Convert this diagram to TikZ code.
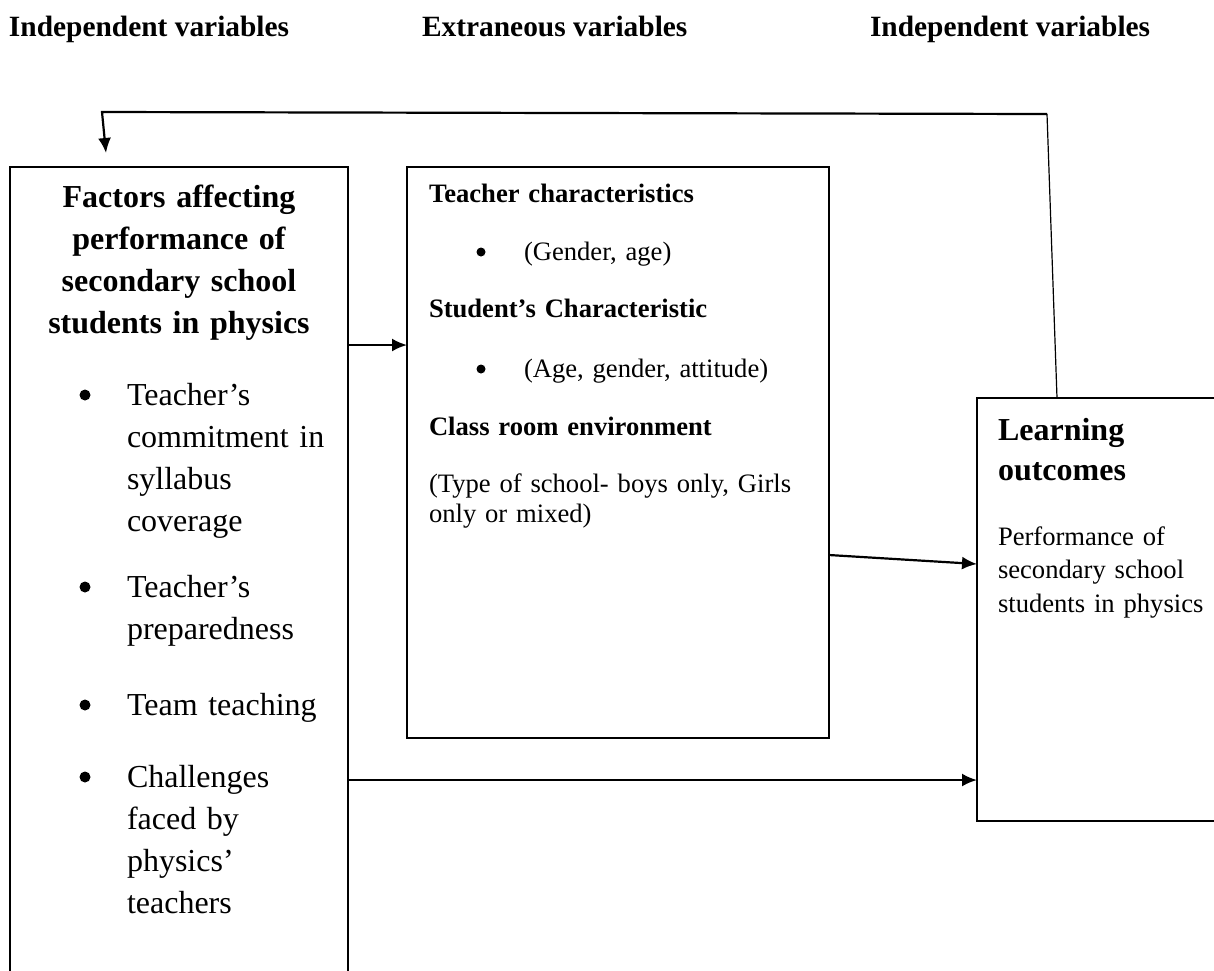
\documentclass[tikz,border=0pt]{standalone}
\usepackage{fontspec}
\setmainfont{Liberation Serif}
\usetikzlibrary{arrows.meta,calc,positioning}

\begin{document}
\begin{tikzpicture}[x=1pt,y=-1pt,every node/.style={inner sep=0pt,outer sep=0pt},
  frame/.style={draw,line width=1.6pt,anchor=north west},
  heading/.style={anchor=base west,font=\bfseries\fontsize{29.4}{35}\selectfont},
  bigtext/.style={anchor=base west,align=left,text width=230pt,font=\fontsize{32}{42}\selectfont},
  smalltext/.style={anchor=base west,align=left,text width=390pt,font=\fontsize{26.6}{30}\selectfont},
  bigdot/.style={circle,fill,minimum size=11pt},
  smalldot/.style={circle,fill,minimum size=9pt},
  link/.style={line width=2.2pt,-{Latex[length=15pt,width=13pt]}}]
\useasboundingbox (0,0) rectangle (1214,970);
% column headings
\node [heading] (HeadLeft) at (9,36) {Independent variables};
\node [heading] (HeadMid) at (422,36) {Extraneous variables};
\node [heading] (HeadRight) at (870,36) {Independent variables};
% boxes
\node [frame,minimum width=338pt,minimum height=850pt] (Factors) at (10,167) {};
\node [frame,minimum width=422pt,minimum height=571pt] (Extraneous) at (407,167) {};
\node [frame,minimum width=280pt,minimum height=423pt] (Outcome) at (977,398) {};
% left box
\node [anchor=base,align=center,text width=330pt,font=\bfseries\fontsize{32}{42}\selectfont] (FactorsTitle) at (179,207) {Factors affecting\\performance of\\secondary school\\students in physics};
\foreach \y in {405,597,715,787}
  \node [bigdot] (Bullet\y) at (85,\y-10) {};
\node [bigtext] (Item1) at (127,405) {Teacher’s\\commitment in\\syllabus\\coverage};
\node [bigtext] (Item2) at (127,597) {Teacher’s\\preparedness};
\node [bigtext] (Item3) at (127,715) {Team teaching};
\node [bigtext] (Item4) at (127,787) {Challenges\\faced by\\physics’\\teachers};
% middle box
\node [smalltext,font=\bfseries\fontsize{26.6}{30}\selectfont] (TeacherHead) at (429,202) {Teacher characteristics};
\node [smalldot] (BulletA) at (481,252) {};
\node [smalltext] (TeacherText) at (524,260) {(Gender, age)};
\node [smalltext,font=\bfseries\fontsize{26.6}{30}\selectfont] (StudentHead) at (429,317) {Student’s Characteristic};
\node [smalldot] (BulletB) at (481,369) {};
\node [smalltext] (StudentText) at (524,377) {(Age, gender, attitude)};
\node [smalltext,font=\bfseries\fontsize{26.6}{30}\selectfont] (RoomHead) at (429,435) {Class room environment};
\node [smalltext] (RoomText) at (429,492) {(Type of school- boys only, Girls\\only or mixed)};
% right box
\node [anchor=base west,align=left,text width=220pt,font=\bfseries\fontsize{32}{40}\selectfont] (OutcomeTitle) at (998,440) {Learning\\outcomes};
\node [anchor=base west,align=left,text width=220pt,font=\fontsize{26.6}{33.5}\selectfont] (OutcomeText) at (998,545) {Performance of\\secondary school\\students in physics};
% connectors
\draw [link] ($(Factors.north east)+(0,178)$) -- ($(Extraneous.north west)+(0,178)$);
\draw [link] ($(Extraneous.north east)+(0,388)$) -- ($(Outcome.north west)+(0,166)$);
\draw [link] ($(Factors.north east)+(0,613)$) -- ($(Outcome.north west)+(0,382)$);
\coordinate (LoopStart) at ($(Outcome.north west)+(80,0)$);
\coordinate (LoopCorner) at (1047,114);
\coordinate (LoopBend) at (102,112);
\coordinate (LoopEnd) at (106,153);
\draw [line width=1.2pt] (LoopStart) -- (LoopCorner);
\draw [link] (LoopCorner) -- (LoopBend) -- (LoopEnd);
\end{tikzpicture}
\end{document}
